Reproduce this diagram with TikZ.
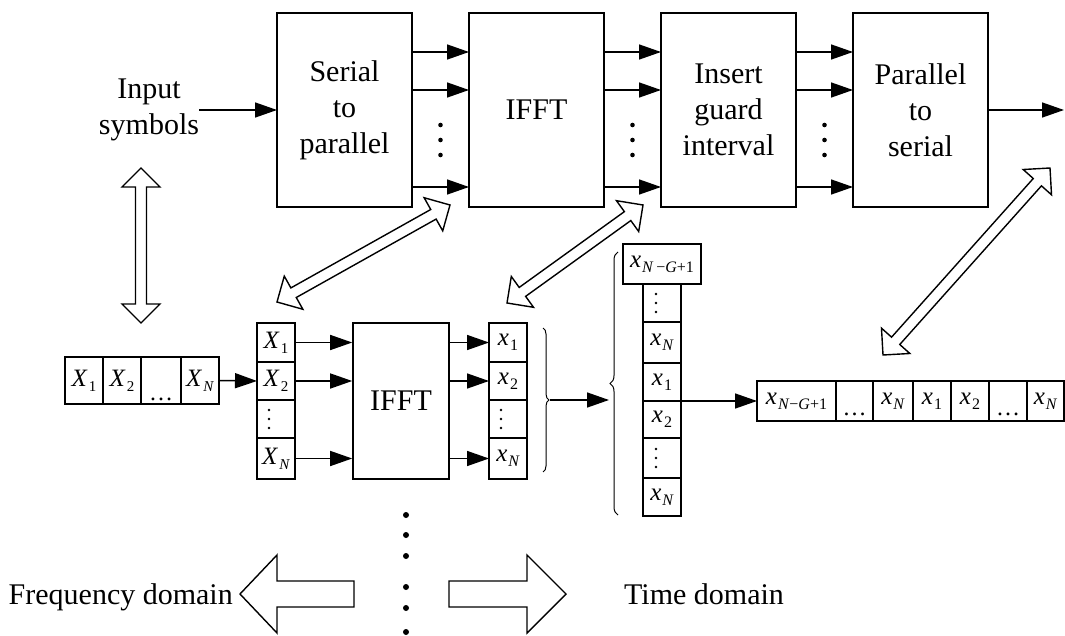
\documentclass[tikz,border=0pt]{standalone}
\usepackage{fontspec}
\setmainfont{Liberation Serif}
\usetikzlibrary{arrows.meta,calc,decorations.pathreplacing}
\newcommand{\bX}[1]{{\fontsize{25}{25}\selectfont\itshape X}\kern2pt\raisebox{-5pt}{\fontsize{15}{15}\selectfont #1}}
\newcommand{\sx}[1]{{\fontsize{25}{25}\selectfont\itshape x}\kern1pt\raisebox{-5pt}{\fontsize{16}{16}\selectfont #1}}
\newcommand{\hdbl}[2]{%
  \coordinate (ha) at ($(#1)!19pt!(#2)$);
  \coordinate (hb) at ($(#2)!19pt!(#1)$);
  \draw[hollow] (#1) -- ($(ha)!19pt!90:(#2)$) -- ($(ha)!5.5pt!90:(#2)$) -- ($(hb)!5.5pt!-90:(#1)$) -- ($(hb)!19pt!-90:(#1)$) -- (#2) -- ($(hb)!19pt!90:(#1)$) -- ($(hb)!5.5pt!90:(#1)$) -- ($(ha)!5.5pt!-90:(#2)$) -- ($(ha)!19pt!-90:(#2)$) -- cycle;}
\begin{document}
\begin{tikzpicture}[x=1pt, y=-1pt, font=\fontsize{30}{36}\selectfont,
  box/.style={draw, line width=1.6pt, inner sep=0pt, outer sep=0pt, align=center, minimum width=135pt, minimum height=194pt},
  cell/.style={draw, line width=1.5pt, inner sep=0pt, outer sep=0pt},
  arr/.style={-{Triangle[length=22pt,width=15pt]}, line width=1.5pt},
  hollow/.style={draw, line width=1.4pt, line join=miter, fill=white},
  brc/.style={decorate, decoration={brace, amplitude=6pt}, line width=1pt}]
\useasboundingbox (0,0) rectangle (1065,636);

% ---------- top chain ----------
\node[inner sep=0pt, align=center] (inp) at (149,110) {Input\\symbols};
\node[box] (sp)   at (344.5,110) {Serial\\to\\parallel};
\node[box] (ifft) at (536.5,110) {IFFT};
\node[box] (ig)   at (728.5,110) {Insert\\guard\\interval};
\node[box] (ps)   at (920.5,110) {Parallel\\to\\serial};
\coordinate (out) at (1064,110);
\draw[arr] (inp.east) -- (sp.west);
\draw[arr] (ps.east) -- (out);
\foreach \a/\b in {sp/ifft, ifft/ig, ig/ps}
  \foreach \yy in {52,90,187}
    \draw[arr] (\a.east |- 0,\yy) -- (\b.west |- 0,\yy);
\foreach \xx in {440.5,632.5,824.5}
  \foreach \yy in {125,140,155}
    \fill (\xx,\yy) circle (2.3pt);

% ---------- frequency-domain vector ----------
\node[cell, minimum width=38pt, minimum height=47pt] (i1) at (84,380.5) {\bX{1}};
\node[cell, minimum width=38pt, minimum height=47pt] (i2) at (122,380.5) {\bX{2}};
\node[cell, minimum width=40pt, minimum height=47pt] (i3) at (161,380.5) {};
\node[cell, minimum width=38pt, minimum height=47pt] (i4) at (200,380.5) {\bX{\textit{N}}};
\node[anchor=base, inner sep=0pt, font=\fontsize{24}{24}\selectfont] (i3d) at (161,400) {…};

\node[cell, minimum width=38pt, minimum height=39pt] (c1) at (276,342.5) {\bX{1}};
\node[cell, minimum width=38pt, minimum height=38pt] (c2) at (276,381) {\bX{2}};
\node[cell, minimum width=38pt, minimum height=38pt] (c3) at (276,419) {};
\node[cell, minimum width=38pt, minimum height=41pt] (c4) at (276,458.5) {\bX{\textit{N}}};
\draw[arr] (i4.east) -- (c2.west);

\node[draw, line width=1.6pt, inner sep=0pt, minimum width=96pt, minimum height=156pt] (f2) at (401,401) {IFFT};

\node[cell, minimum width=38pt, minimum height=39pt] (o1) at (508,342.5) {\sx{1}};
\node[cell, minimum width=38pt, minimum height=38pt] (o2) at (508,381) {\sx{2}};
\node[cell, minimum width=38pt, minimum height=38pt] (o3) at (508,419) {};
\node[cell, minimum width=38pt, minimum height=41pt] (o4) at (508,458.5) {\sx{\textit{N}}};

\foreach \c/\o in {c1/o1, c2/o2, c4/o4} {
  \draw[arr] (\c.east) -- (\c.east -| f2.west);
  \draw[arr] (f2.east |- \o.west) -- (\o.west);
}
\foreach \d in {-9,0,9} {
  \fill ([xshift=-7pt, yshift=\d pt]c3.center) circle (1.3pt);
  \fill ([xshift=-7pt, yshift=\d pt]o3.center) circle (1.3pt);
}

% ---------- braces ----------
\draw[brc] (543,328) -- (543,472);
\draw[brc, decoration={brace, amplitude=8pt}] (618,515) -- (618,252);
\coordinate (bt1) at (550,400);
\coordinate (bt2) at (609,400);
\draw[arr] (bt1) -- (bt2);

% ---------- guard-interval column ----------
\node[cell, minimum width=78pt, minimum height=40pt] (t0) at (662,264) {\sx{\textit{N}\,−\textit{G}+1}};
\node[cell, minimum width=38pt, minimum height=38pt] (d1) at (662,303) {};
\node[cell, minimum width=38pt, minimum height=41pt] (d2) at (662,342.5) {\sx{\textit{N}}};
\node[cell, minimum width=38pt, minimum height=38pt] (d3) at (662,382) {\sx{1}};
\node[cell, minimum width=38pt, minimum height=37pt] (d4) at (662,419.5) {\sx{2}};
\node[cell, minimum width=38pt, minimum height=40pt] (d5) at (662,458) {};
\node[cell, minimum width=38pt, minimum height=38pt] (d6) at (662,497) {\sx{\textit{N}}};
\foreach \d in {-9,0,9} {
  \fill ([xshift=-6pt, yshift=\d pt]d1.center) circle (1.3pt);
  \fill ([xshift=-6pt, yshift=\d pt]d5.center) circle (1.3pt);
}

% ---------- serial output row ----------
\node[cell, minimum width=79pt, minimum height=40pt] (r1) at (796.5,401) {\sx{\textit{N}−\textit{G}+1}};
\node[cell, minimum width=37pt, minimum height=40pt] (r2) at (854.5,401) {};
\node[cell, minimum width=40pt, minimum height=40pt] (r3) at (893,401) {\sx{\textit{N}}};
\node[cell, minimum width=38pt, minimum height=40pt] (r4) at (932,401) {\sx{1}};
\node[cell, minimum width=38pt, minimum height=40pt] (r5) at (970,401) {\sx{2}};
\node[cell, minimum width=38pt, minimum height=40pt] (r6) at (1008,401) {};
\node[cell, minimum width=37pt, minimum height=40pt] (r7) at (1045.5,401) {\sx{\textit{N}}};
\node[anchor=base, inner sep=0pt, font=\fontsize{24}{24}\selectfont] (r2d) at (854.5,415) {…};
\node[anchor=base, inner sep=0pt, font=\fontsize{24}{24}\selectfont] (r6d) at (1008,415) {…};
\draw[arr] (d3.south east) -- (r1.west);

% ---------- hollow double arrows ----------
\coordinate (v1s) at (141,168);  \coordinate (v1e) at (141,323);
\coordinate (a1s) at (277,302);  \coordinate (a1e) at (450,205);
\coordinate (a2s) at (507,303);  \coordinate (a2e) at (643,205);
\coordinate (a3s) at (883,355);  \coordinate (a3e) at (1050,168);
\hdbl{v1s}{v1e}
\hdbl{a1s}{a1e}
\hdbl{a2s}{a2e}
\hdbl{a3s}{a3e}

% ---------- bottom ----------
\foreach \yy in {515,535,556,587,608,632}
  \fill (406,\yy) circle (3pt);
\draw[hollow] (240,594) -- (277,555) -- (277,581) -- (354,581) -- (354,607) -- (277,607) -- (277,633) -- cycle;
\draw[hollow] (566,594) -- (527,555) -- (527,581) -- (449,581) -- (449,607) -- (527,607) -- (527,633) -- cycle;
\node[anchor=base east, inner sep=0pt] (fd) at (233,604) {Frequency domain};
\node[anchor=base west, inner sep=0pt] (td) at (624,604) {Time domain};
\end{tikzpicture}
\end{document}
